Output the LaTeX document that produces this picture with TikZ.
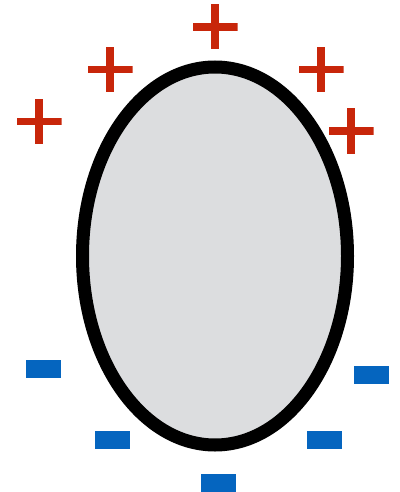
\documentclass[tikz,border=0pt]{standalone}
\usepackage{xcolor}
\usepackage{tikz}
\usetikzlibrary{shapes.geometric}
\definecolor{plusred}{RGB}{200,38,10}
\definecolor{minusblue}{RGB}{5,101,191}
\definecolor{cellgrey}{RGB}{220,221,223}

\begin{document}
\begin{tikzpicture}[
  x=1pt, y=-1pt,
  cell/.style = {ellipse, draw=black, line width=13pt, fill=cellgrey,
                 minimum width=265pt, minimum height=378pt, inner sep=0pt},
  plus/.style = {rectangle, minimum size=45pt, inner sep=0pt,
                 path picture={
                   \fill[plusred] ([xshift=-4pt]path picture bounding box.north)
                     rectangle ([xshift=4pt]path picture bounding box.south);
                   \fill[plusred] ([yshift=-3.7pt]path picture bounding box.west)
                     rectangle ([yshift=3.7pt]path picture bounding box.east);
                 }},
  minus/.style = {rectangle, fill=minusblue, minimum width=35pt,
                  minimum height=18pt, inner sep=0pt},
]
\useasboundingbox (0,0) rectangle (399,492);

% body
\node[cell] (cell) at (215,256) {};

% positive charges
\node[plus] (p1) at (39,121.5) {};
\node[plus] (p2) at (110,69.5) {};
\node[plus] (p3) at (215,27) {};
\node[plus] (p4) at (321,69.5) {};
\node[plus] (p5) at (351,131) {};

% negative charges
\node[minus] (m1) at (43.5,369) {};
\node[minus] (m2) at (112.5,440) {};
\node[minus] (m3) at (218.5,483) {};
\node[minus] (m4) at (324.5,440) {};
\node[minus] (m5) at (371.5,375) {};
\end{tikzpicture}
\end{document}
